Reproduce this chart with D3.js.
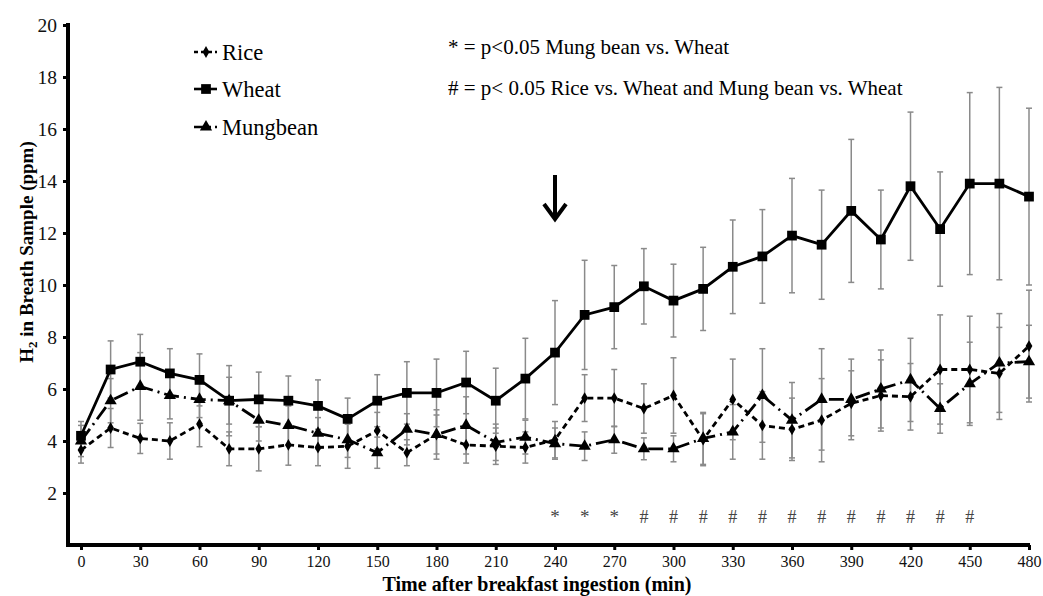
<!DOCTYPE html>
<html><head><meta charset="utf-8">
<script src="https://cdn.jsdelivr.net/npm/d3@7/dist/d3.min.js"></script>
<style>body{margin:0;background:#fff}svg{display:block}</style>
</head><body><svg id="c" width="1043" height="596" font-family="'Liberation Serif', 'Times New Roman', Times, serif"></svg>
<script>
const times = [0,15,30,45,60,75,90,105,120,135,150,165,180,195,210,225,240,255,270,285,300,315,330,345,360,375,390,405,420,435,450,465,480];
const wheat = [4.2,6.75,7.05,6.6,6.35,5.55,5.6,5.55,5.35,4.85,5.55,5.85,5.85,6.25,5.55,6.4,7.4,8.85,9.15,9.95,9.4,9.85,10.7,11.1,11.9,11.55,12.85,11.75,13.8,12.15,13.9,13.9,13.4];
const wheatErr = [0.55,1.1,1.05,0.95,1.0,1.35,1.05,0.95,1.0,0.8,1.0,1.2,1.3,1.2,1.25,1.55,2.0,2.1,1.6,1.45,1.4,1.6,1.8,1.8,2.2,2.1,2.75,1.9,2.85,2.2,3.5,3.7,3.4];
const rice = [3.65,4.5,4.1,4.0,4.65,3.7,3.7,3.85,3.75,3.8,4.4,3.55,4.25,3.85,3.8,3.75,4.05,5.65,5.65,5.25,5.75,4.05,5.6,4.6,4.45,4.8,5.45,5.75,5.7,6.75,6.75,6.6,7.65];
const riceErr = [0.5,0.75,0.58,0.7,0.87,0.65,0.85,0.78,0.7,0.85,0.7,0.5,0.95,0.7,0.7,0.6,0.7,0.9,1.1,0.95,1.45,1.0,1.55,1.3,1.2,1.6,1.25,1.37,1.28,2.1,2.05,1.77,2.15];
const mung = [4.0,5.55,6.1,5.75,5.6,5.55,4.8,4.6,4.3,4.05,3.55,4.45,4.25,4.6,3.95,4.15,3.9,3.8,4.05,3.7,3.7,4.1,4.35,5.75,4.8,5.6,5.6,6.0,6.35,5.25,6.2,7.0,7.05];
const mungErr = [0.6,0.85,1.3,0.9,0.7,0.9,0.8,0.75,0.6,0.68,0.6,0.6,0.75,1.1,0.7,0.65,0.6,0.55,0.52,0.42,0.5,1.0,1.05,1.8,1.45,1.95,1.55,1.5,1.6,0.95,1.6,1.9,1.4];
const xTicks = [0,30,60,90,120,150,180,210,240,270,300,330,360,390,420,450,480];
const yTicks = [2,4,6,8,10,12,14,16,18,20];
const starTimes = [240,255,270];
const hashTimes = [285,300,315,330,345,360,375,390,405,420,435,450];
const seriesNames = ["Rice","Wheat","Mungbean"];
const noteLines = ["* = p<0.05 Mung bean vs. Wheat","# = p< 0.05 Rice vs. Wheat and Mung bean vs. Wheat"];
const arrowTime = 240;

const FONT = "'Liberation Serif', 'Times New Roman', Times, serif";
const svg = d3.select("#c");
const x = d3.scaleLinear().domain([0,480]).range([81,1029]);
const y = d3.scaleLinear().domain([0,20]).range([545,25]);

const series = [
  {name:"Rice", vals:rice, err:riceErr, dash:"6,4", marker:"diamond"},
  {name:"Wheat", vals:wheat, err:wheatErr, dash:null, marker:"square"},
  {name:"Mungbean", vals:mung, err:mungErr, dash:"15,5,2,5", marker:"triangle"}
];

// error bars
const eb = svg.append("g").attr("stroke","#8a8a8a").attr("stroke-width",1.5);
series.forEach(s=>{
  times.forEach((t,i)=>{
    const cx = x(t), lo = y(s.vals[i]-s.err[i]), hi = y(s.vals[i]+s.err[i]);
    eb.append("line").attr("x1",cx).attr("x2",cx).attr("y1",lo).attr("y2",hi);
    eb.append("line").attr("x1",cx-3).attr("x2",cx+3).attr("y1",lo).attr("y2",lo);
    eb.append("line").attr("x1",cx-3).attr("x2",cx+3).attr("y1",hi).attr("y2",hi);
  });
});

const line = d3.line().x((d,i)=>x(times[i])).y(d=>y(d));
function markerPath(type){
  if(type==="diamond") return d3.symbol(d3.symbolDiamond, 40)();
  if(type==="square") return d3.symbol(d3.symbolSquare, 95)();
  return d3.symbol(d3.symbolTriangle, 65)();
}
series.forEach(s=>{
  svg.append("path").attr("d",line(s.vals)).attr("fill","none").attr("stroke","#000")
    .attr("stroke-width",2.8).attr("stroke-dasharray",s.dash);
});
series.forEach(s=>{
  svg.append("g").selectAll("path").data(s.vals).join("path")
    .attr("d",markerPath(s.marker))
    .attr("transform",(d,i)=>`translate(${x(times[i])},${y(d)})`)
    .attr("fill","#000");
});

// axes
const xAxis = svg.append("g").attr("transform",`translate(0,${y(0)})`)
  .call(d3.axisBottom(x).tickValues(xTicks).tickSize(5).tickSizeOuter(0).tickPadding(6));
xAxis.attr("font-family",FONT);
xAxis.select(".domain").remove();
xAxis.selectAll(".tick line").attr("stroke","#000").attr("stroke-width",3);
xAxis.selectAll("text").attr("font-size",16).attr("fill","#111").attr("font-family",FONT);
svg.append("line").attr("x1",66).attr("x2",x(480)+1).attr("y1",y(0)).attr("y2",y(0)).attr("stroke","#000").attr("stroke-width",4);

const yAxis = svg.append("g").attr("transform",`translate(68,0)`)
  .call(d3.axisLeft(y).tickValues(yTicks).tickSize(5).tickSizeOuter(0).tickPadding(6));
yAxis.attr("font-family",FONT);
yAxis.select(".domain").remove();
yAxis.selectAll(".tick line").attr("stroke","#000").attr("stroke-width",3);
yAxis.selectAll("text").attr("font-size",19.5).attr("fill","#111").attr("font-family",FONT);
svg.append("line").attr("x1",68).attr("x2",68).attr("y1",y(0)+2).attr("y2",y(20)-2).attr("stroke","#000").attr("stroke-width",4);

// axis titles
svg.append("text").attr("x",537).attr("y",591).attr("text-anchor","middle").attr("font-family",FONT)
  .attr("font-size",20).attr("font-weight","bold").text("Time after breakfast ingestion (min)");
const yt = svg.append("text").attr("transform","translate(33,252) rotate(-90)").attr("text-anchor","middle")
  .attr("font-size",19).attr("font-weight","bold").attr("font-family",FONT);
yt.append("tspan").text("H");
yt.append("tspan").attr("font-size",13).attr("dy",4).text("2");
yt.append("tspan").attr("dy",-4).text(" in Breath Sample (ppm)");

// legend
const legY = [52,89,127];
series.forEach((s,i)=>{
  const g = svg.append("g").attr("transform",`translate(0,${legY[i]})`);
  g.append("line").attr("x1",194).attr("x2",217).attr("y1",0).attr("y2",0).attr("stroke","#000")
    .attr("stroke-width",2.6).attr("stroke-dasharray", s.marker==="diamond" ? "4,3" : (s.marker==="triangle" ? "11,4,2,4" : null));
  g.append("path").attr("d",markerPath(s.marker)).attr("transform","translate(206,0)").attr("fill","#000");
  g.append("text").attr("x",222).attr("y",7.5).attr("font-size",22.5).attr("font-family",FONT).text(seriesNames[i]);
});

// notes
svg.append("text").attr("x",448).attr("y",54).attr("font-size",21).attr("font-family",FONT).text(noteLines[0]);
svg.append("text").attr("x",448).attr("y",95).attr("font-size",21).attr("font-family",FONT).text(noteLines[1]);

// arrow
const ax = x(arrowTime);
svg.append("path").attr("d",`M${ax},175 L${ax},218 M${ax-11},204 L${ax},219 L${ax+11},204`)
  .attr("fill","none").attr("stroke","#000").attr("stroke-width",4);

// significance marks
svg.append("g").selectAll("text").data(starTimes).join("text")
  .attr("x",d=>x(d)).attr("y",523).attr("text-anchor","middle").attr("font-size",19).attr("font-family",FONT).attr("fill","#444").text("*");
svg.append("g").selectAll("text").data(hashTimes).join("text")
  .attr("x",d=>x(d)).attr("y",523).attr("text-anchor","middle").attr("font-size",18).attr("font-family",FONT).attr("fill","#444").text("#");
</script></body></html>
